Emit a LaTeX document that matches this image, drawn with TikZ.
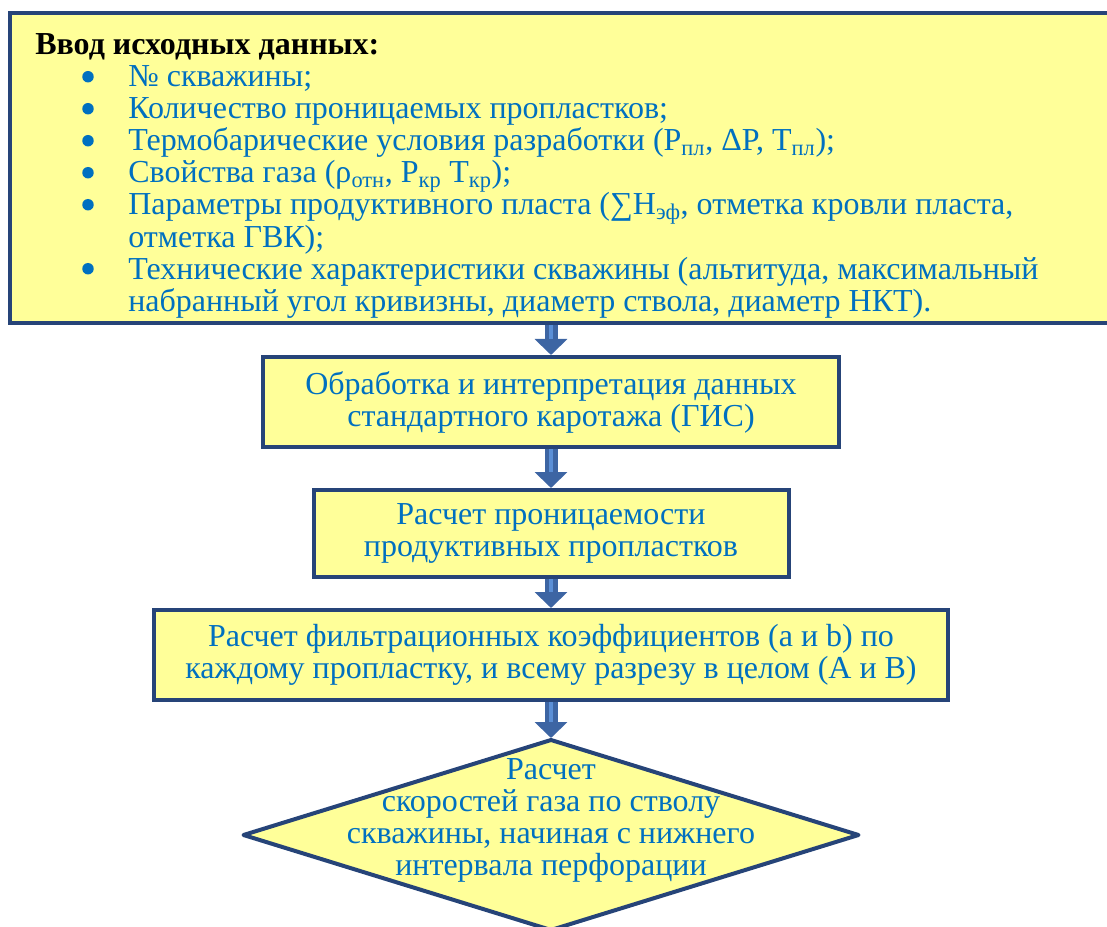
\documentclass[tikz,border=0pt]{standalone}
\usepackage{fontspec}
\setmainfont{Liberation Serif}
\usetikzlibrary{arrows.meta,positioning,shapes.geometric}

\definecolor{boxfill}{HTML}{FFFF99}
\definecolor{boxline}{HTML}{264478}
\definecolor{txtblue}{HTML}{0070C0}
\definecolor{arrdark}{HTML}{3D65A3}
\definecolor{arrlight}{HTML}{5B8FD6}

\begin{document}
\begin{tikzpicture}[
    x=0.75pt, y=-0.75pt,
    font=\fontsize{24}{24}\selectfont,
    block/.style={rectangle, draw=boxline, line width=3pt, fill=boxfill, outer sep=0pt, align=center, text=txtblue},
    decide/.style={diamond, draw=boxline, line width=3pt, line join=round, fill=boxfill, outer sep=0pt, inner sep=0pt},
    flow/.style={draw=arrdark, line width=9.75pt, -{Triangle[width=24pt, length=12pt]}, shorten <=1.5pt, shorten >=1.5pt,
      postaction={draw=arrlight, line width=3pt, -, shorten >=13.5pt}},
  ]
    \useasboundingbox (0,0) rectangle (1107,927);
    \clip (0,0) rectangle (1107,927);

    % input data
    \node[block, minimum width=834pt, minimum height=232.5pt, anchor=north west] (input) at (10,13) {};
    \node[anchor=north west, inner sep=0pt, text=txtblue] (inputtext) at ([xshift=18.75pt, yshift=-14pt]input.north west) {%
      \begin{tabular}[t]{@{\hspace{69.75pt}}l@{}}
        \multicolumn{1}{@{}l}{\textcolor{black}{\textbf{Ввод исходных данных:}}}\\
        № скважины;\\
        Количество проницаемых пропластков;\\
        Термобарические условия разработки (P\textsubscript{пл}, ΔP, T\textsubscript{пл});\\
        Свойства газа (ρ\textsubscript{отн}, P\textsubscript{кр} T\textsubscript{кр});\\
        Параметры продуктивного пласта (∑H\textsubscript{эф}, отметка кровли пласта,\\
        отметка ГВК);\\
        Технические характеристики скважины (альтитуда, максимальный\\
        набранный угол кривизны, диаметр ствола, диаметр НКТ).
      \end{tabular}};
    \foreach \k in {1,2,3,4,5,7}
      \fill[txtblue] ([xshift=39.75pt, yshift=-9.8pt-24pt*\k]inputtext.north west) circle (4.3pt);

    % steps
    \node[block, minimum width=432pt, minimum height=67.5pt, anchor=north] (interp) at (551,357) {Обработка и интерпретация данных\\стандартного каротажа (ГИС)};
    \node[block, minimum width=356.25pt, minimum height=65.25pt, below=32.25pt of interp] (perm) {Расчет проницаемости\\продуктивных пропластков};
    \node[block, minimum width=595.5pt, minimum height=67.5pt, below=24.75pt of perm] (filt) {Расчет фильтрационных коэффициентов (a и b) по\\каждому пропластку, и всему разрезу в целом (A и B)};
    \node[decide, minimum width=461.25pt, minimum height=142.5pt, below=30pt of filt] (speed) {};
    \node[text=txtblue, align=center] (speedtext) at ([yshift=11.25pt]speed.center) {Расчет\\скоростей газа по стволу\\скважины, начиная с нижнего\\интервала перфорации};

    \draw[flow] (input.south -| interp.north) -- (interp.north);
    \draw[flow] (interp) -- (perm);
    \draw[flow] (perm) -- (filt);
    \draw[flow] (filt) -- (speed);
\end{tikzpicture}
\end{document}
